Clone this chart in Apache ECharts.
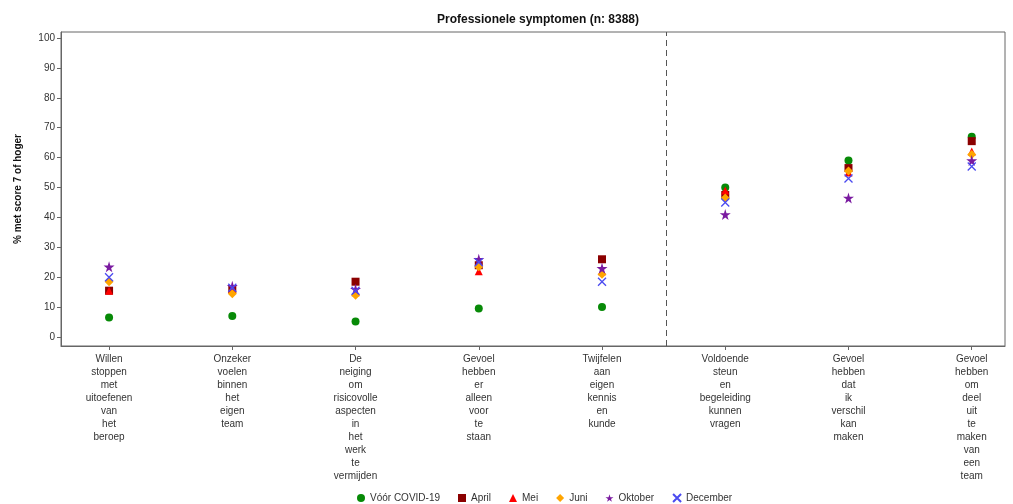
<!DOCTYPE html>
<html>
<head>
<meta charset="utf-8">
<script src="https://cdn.jsdelivr.net/npm/echarts@6/dist/echarts.min.js"></script>
<style>html,body{margin:0;padding:0;background:#fff}#c{width:1013px;height:504px}</style>
</head>
<body>
<div id="c"></div>
<script>
const categories = [
  "Willen stoppen met uitoefenen van het beroep",
  "Onzeker voelen binnen het eigen team",
  "De neiging om risicovolle aspecten in het werk te vermijden",
  "Gevoel hebben er alleen voor te staan",
  "Twijfelen aan eigen kennis en kunde",
  "Voldoende steun en begeleiding kunnen vragen",
  "Gevoel hebben dat ik verschil kan maken",
  "Gevoel hebben om deel uit te maken van een team"
];
const seriesNames = ["Vóór COVID-19", "April", "Mei", "Juni", "Oktober", "December"];
const voorCovid = [6.5, 7, 5.2, 9.5, 10, 50, 59, 67];
const april     = [15.5, 16, 18.5, 24, 26, 47.5, 56.5, 65.5];
const mei       = [15.5, 16, 15, 22, 22, 49, 55, 62];
const juni      = [18.5, 14.5, 14, 23.5, 21, 46.5, 55.5, 61];
const oktober   = [23.5, 17, 16, 26, 23, 41, 46.5, 59];
const december  = [20, 16.5, 15.5, 25, 18.5, 45, 53, 57];
const yTicks = [0, 10, 20, 30, 40, 50, 60, 70, 80, 90, 100];

const starPath = 'path://M50,0 L61,35 L98,35 L68,57 L79,91 L50,70 L21,91 L32,57 L2,35 L39,35 Z';
const xPath = 'path://M0,0 L10,10 M10,0 L0,10';

const styles = [
  {symbol: 'circle', size: 8, color: '#078a07'},
  {symbol: 'rect', size: 8, color: '#8b0000'},
  {symbol: 'triangle', size: 8, color: '#ff0000'},
  {symbol: 'diamond', size: 9, color: '#ffa500'},
  {symbol: starPath, size: 11, color: '#7a1aa0'},
  {symbol: xPath, size: 8, color: '#4a4af0', stroke: true}
];
const allData = [voorCovid, april, mei, juni, oktober, december];

const series = allData.map((vals, i) => {
  const st = styles[i];
  return {
    name: seriesNames[i],
    type: 'scatter',
    symbol: st.symbol,
    symbolSize: st.size,
    data: vals.map((v, j) => [j + 1, v]),
    itemStyle: st.stroke
      ? {color: 'rgba(0,0,0,0)', borderColor: st.color, borderWidth: 1.3, opacity: 1}
      : {color: st.color, opacity: 1},
    emphasis: {disabled: true}
  };
});
series[0].markLine = {
  silent: true, symbol: 'none', label: {show: false},
  lineStyle: {type: [6, 4], color: '#555', width: 1},
  data: [{xAxis: 5.52}]
};

const chart = echarts.init(document.getElementById('c'), null, {renderer: 'canvas'});
chart.setOption({
  animation: false,
  textStyle: {fontFamily: 'Liberation Sans, Arial, sans-serif'},
  title: {
    text: 'Professionele symptomen (n: 8388)',
    left: 533, top: 9, textAlign: 'center',
    textStyle: {fontSize: 12, fontWeight: 'bold', color: '#111', fontFamily: 'Liberation Sans, Arial, sans-serif'}
  },
  legend: {
    top: 488, left: 352, itemWidth: 8, itemHeight: 8, itemGap: 18,
    textStyle: {fontSize: 10, color: '#333'},
    data: seriesNames
  },
  grid: {left: 61, right: 8, top: 32, bottom: 158, show: true, borderColor: '#666', borderWidth: 1},
  xAxis: {
    type: 'value', min: 0.61, max: 8.27,
    splitLine: {show: false},
    axisLine: {onZero: false, lineStyle: {color: '#666'}},
    axisTick: {customValues: [1, 2, 3, 4, 5, 6, 7, 8], length: 4, lineStyle: {color: '#666'}},
    axisLabel: {
      customValues: [1, 2, 3, 4, 5, 6, 7, 8],
      formatter: v => categories[Math.round(v) - 1].split(' ').join('\n'),
      fontSize: 10, lineHeight: 13, color: '#333', margin: 7
    }
  },
  yAxis: {
    type: 'value', min: -3, max: 102,
    name: '% met score 7 of hoger', nameLocation: 'middle', nameGap: 38,
    nameTextStyle: {fontSize: 10, fontWeight: 'bold', color: '#111'},
    splitLine: {show: false},
    axisLine: {show: true, onZero: false, lineStyle: {color: '#666'}},
    axisTick: {show: true, customValues: yTicks, length: 4, lineStyle: {color: '#666'}},
    axisLabel: {customValues: yTicks, fontSize: 10, color: '#333', margin: 6}
  },
  series: series
});
</script>
</body>
</html>
